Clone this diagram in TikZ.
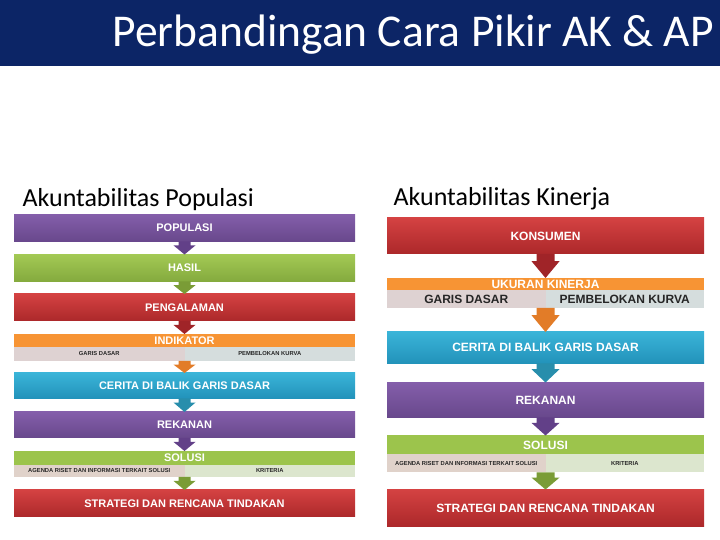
\documentclass[tikz,border=0pt]{standalone}
\usepackage{fontspec}
\setmainfont{Carlito}
\setsansfont{Liberation Sans}
\usetikzlibrary{positioning,calc}

\definecolor{navy}{RGB}{12,37,102}
\definecolor{purpleT}{RGB}{132,94,170}
\definecolor{purpleB}{RGB}{104,72,140}
\definecolor{purpleD}{RGB}{98,64,136}
\definecolor{greenT}{RGB}{163,201,84}
\definecolor{greenB}{RGB}{132,170,62}
\definecolor{greenD}{RGB}{122,156,54}
\definecolor{greenBar}{RGB}{156,196,76}
\definecolor{redT}{RGB}{212,66,66}
\definecolor{redB}{RGB}{172,40,42}
\definecolor{redD}{RGB}{160,36,40}
\definecolor{orangeBar}{RGB}{247,148,52}
\definecolor{orangeD}{RGB}{226,124,40}
\definecolor{blueT}{RGB}{58,180,216}
\definecolor{blueB}{RGB}{34,146,186}
\definecolor{blueD}{RGB}{40,142,172}
\definecolor{subPink}{RGB}{222,210,210}
\definecolor{subGrey}{RGB}{213,221,221}
\definecolor{subTan}{RGB}{224,210,202}
\definecolor{subSage}{RGB}{220,230,206}

% block arrow: start, end, colour, shaft half width, head half width
\newcommand{\blockarrow}[5]{%
  \fill[#3] ($(#1)+(-#4,0)$) -- ($(#1)+(#4,0)$)
    -- ($(#1)!0.3!(#2)+(#4,0)$) -- ($(#1)!0.3!(#2)+(#5,0)$)
    -- (#2)
    -- ($(#1)!0.3!(#2)+(-#5,0)$) -- ($(#1)!0.3!(#2)+(-#4,0)$) -- cycle;}

\begin{document}
\begin{tikzpicture}[
    x=1pt, y=1pt,
    stage/.style={rectangle, inner sep=0pt, outer sep=0pt, text=white},
    leftbox/.style={stage, minimum width=341pt, font=\sffamily\bfseries\fontsize{11}{13}\selectfont},
    rightbox/.style={stage, minimum width=317pt, font=\sffamily\bfseries\fontsize{12}{14}\selectfont},
    subcell/.style={rectangle, inner sep=0pt, outer sep=0pt, text=black!85},
    tinycell/.style={subcell, minimum width=170.5pt, font=\sffamily\bfseries\fontsize{5.8}{7}\selectfont},
    bigcell/.style={subcell, minimum width=158.5pt, font=\sffamily\bfseries\fontsize{12}{14}\selectfont},
    purplebox/.style={top color=purpleT, bottom color=purpleB},
    greenbox/.style={top color=greenT, bottom color=greenB},
    redbox/.style={top color=redT, bottom color=redB},
    bluebox/.style={top color=blueT, bottom color=blueB},
    header/.style={anchor=base west, font=\fontsize{26}{30}\selectfont}
]
\useasboundingbox (0,0) rectangle (720,540);

% Title bar
\fill[navy] (0,474) rectangle (720,540);
\node[anchor=base west, text=white, font=\fontsize{45.5}{50}\selectfont] (title) at (109,493) {Perbandingan Cara Pikir AK \& AP};

% Column headers
\node[header] (hdrA) at (19,333) {Akuntabilitas Populasi};
\node[header] (hdrB) at (390,334) {Akuntabilitas Kinerja};

% Akuntabilitas Populasi
\node[leftbox, purplebox, minimum height=27pt, anchor=north] (popA) at (184.5,325.5) {POPULASI};
\node[leftbox, greenbox, minimum height=27pt, below=13pt of popA] (hasA) {HASIL};
\node[leftbox, redbox, minimum height=27pt, below=12.5pt of hasA] (penA) {PENGALAMAN};
\node[leftbox, fill=orangeBar, minimum height=13pt, below=13pt of penA] (indA) {INDIKATOR};
\node[tinycell, fill=subPink, minimum height=14pt, below right=0pt of indA.south west] (indAL) {GARIS DASAR};
\node[tinycell, fill=subGrey, minimum height=14pt, right=0pt of indAL] (indAR) {PEMBELOKAN KURVA};
\node[leftbox, bluebox, minimum height=25.5pt, below=12pt of indAL.south east] (cerA) {CERITA DI BALIK GARIS DASAR};
\node[leftbox, purplebox, minimum height=26pt, below=13.5pt of cerA] (rekA) {REKANAN};
\node[leftbox, fill=greenBar, minimum height=14pt, below=13pt of rekA] (solA) {SOLUSI};
\node[tinycell, fill=subTan, minimum height=12pt, below right=0pt of solA.south west] (solAL) {AGENDA RISET DAN INFORMASI TERKAIT SOLUSI};
\node[tinycell, fill=subSage, minimum height=12pt, right=0pt of solAL] (solAR) {KRITERIA};
\node[leftbox, redbox, minimum height=27pt, below=13pt of solAL.south east] (strA) {STRATEGI DAN RENCANA TINDAKAN};

% Akuntabilitas Kinerja
\node[rightbox, redbox, minimum height=36pt, anchor=north] (konB) at (545.5,322) {KONSUMEN};
\node[rightbox, fill=orangeBar, minimum height=12pt, below=24pt of konB] (ukuB) {UKURAN KINERJA};
\node[bigcell, fill=subPink, minimum height=18pt, below right=0pt of ukuB.south west] (ukuBL) {GARIS DASAR};
\node[bigcell, fill=subGrey, minimum height=18pt, right=0pt of ukuBL] (ukuBR) {PEMBELOKAN KURVA};
\node[rightbox, bluebox, minimum height=31.5pt, below=24pt of ukuBL.south east] (cerB) {CERITA DI BALIK GARIS DASAR};
\node[rightbox, purplebox, minimum height=35pt, below=19pt of cerB] (rekB) {REKANAN};
\node[rightbox, fill=greenBar, minimum height=19pt, below=18pt of rekB] (solB) {SOLUSI};
\node[tinycell, minimum width=158.5pt, fill=subTan, minimum height=18pt, below right=0pt of solB.south west] (solBL) {AGENDA RISET DAN INFORMASI TERKAIT SOLUSI};
\node[tinycell, minimum width=158.5pt, fill=subSage, minimum height=18pt, right=0pt of solBL] (solBR) {KRITERIA};
\node[rightbox, redbox, minimum height=37pt, below=17pt of solBL.south east] (strB) {STRATEGI DAN RENCANA TINDAKAN};

% Arrows
\blockarrow{popA.south}{hasA.north}{purpleD}{6}{11}
\blockarrow{hasA.south}{penA.north}{greenD}{6}{11}
\blockarrow{penA.south}{indA.north}{redD}{6}{11}
\blockarrow{indAL.south east}{cerA.north}{orangeD}{6}{11}
\blockarrow{cerA.south}{rekA.north}{blueD}{6}{11}
\blockarrow{rekA.south}{solA.north}{purpleD}{6}{11}
\blockarrow{solAL.south east}{strA.north}{greenD}{6}{11}

\blockarrow{konB.south}{ukuB.north}{redD}{9}{14}
\blockarrow{ukuBL.south east}{cerB.north}{orangeD}{9}{14}
\blockarrow{cerB.south}{rekB.north}{blueD}{9}{14}
\blockarrow{rekB.south}{solB.north}{purpleD}{9}{14}
\blockarrow{solBL.south east}{strB.north}{greenD}{9}{14}

\end{tikzpicture}
\end{document}
